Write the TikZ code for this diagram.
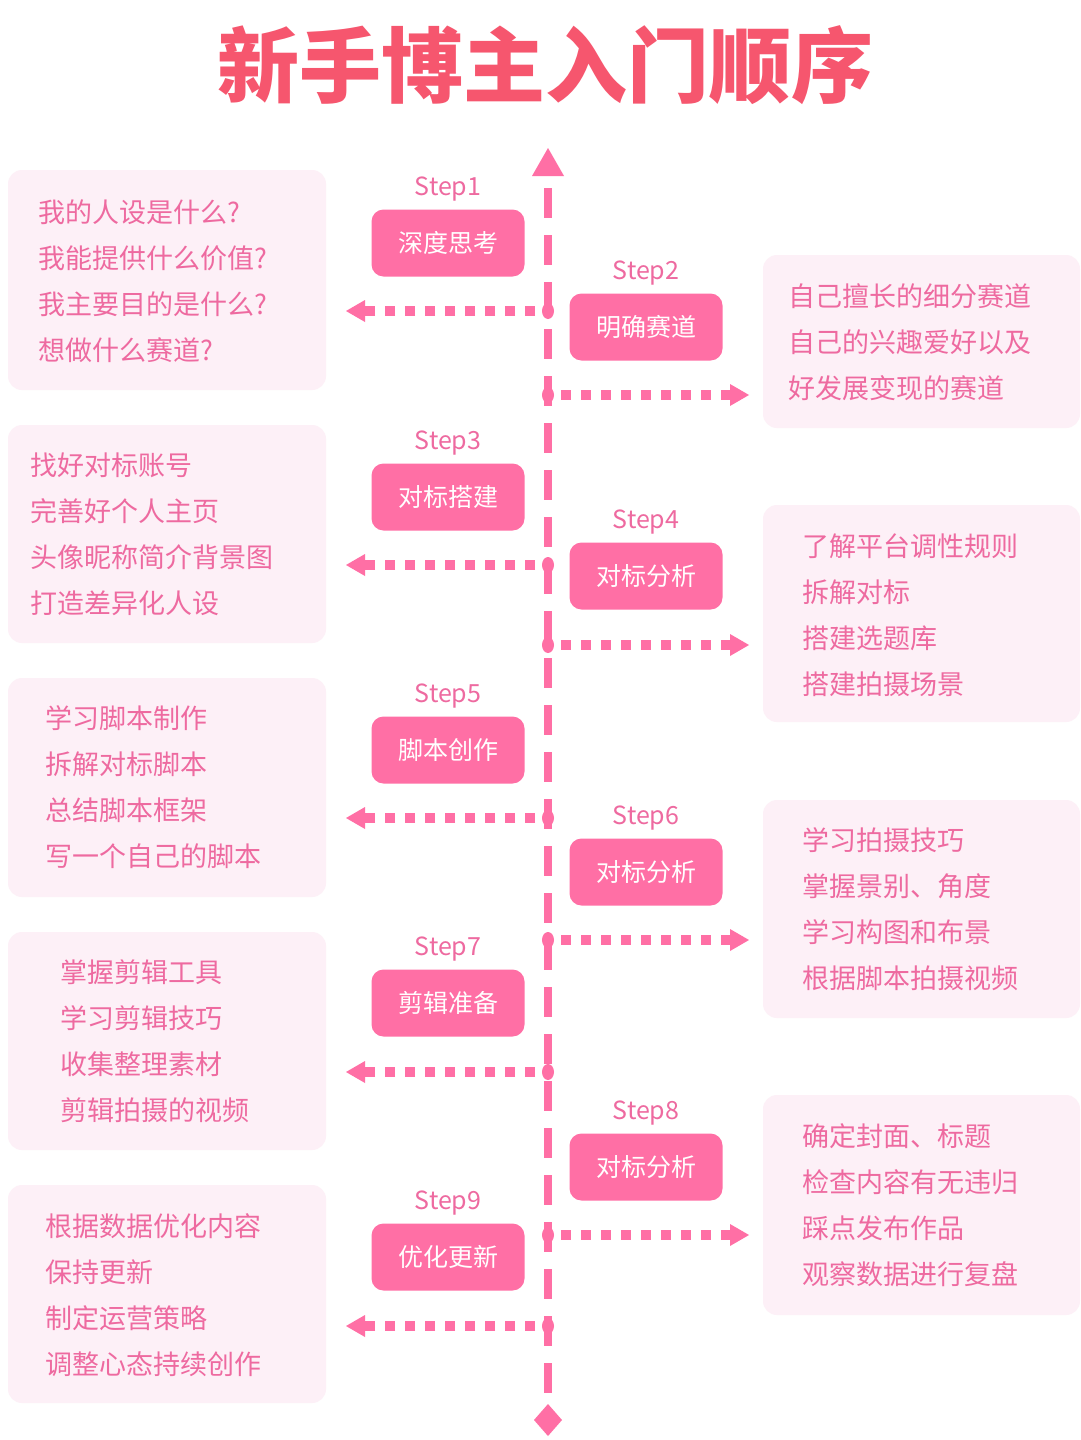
\documentclass[tikz,border=0pt]{standalone}
\usepackage{fontspec}
\setmainfont{Noto Sans CJK SC}
\newfontfamily\cjkb{Noto Sans CJK SC}[BoldFont=* Bold]
\usetikzlibrary{arrows.meta}
\definecolor{pk}{HTML}{FF6FA5}
\definecolor{pkt}{HTML}{EE6AA0}
\definecolor{bg}{HTML}{FDF0F7}
\definecolor{ttl}{HTML}{F6566E}
\tikzset{
 x=1pt,y=-1pt,
 infobox/.style={fill=bg,rounded corners=14pt,draw=none},
 pill/.style={fill=pk,rounded corners=12pt,text=white,font=\fontsize{25}{30}\selectfont,minimum width=153pt,minimum height=67pt,inner sep=0pt},
 steplab/.style={text=pkt,font=\fontsize{25}{30}\selectfont},
 txt/.style={text=pkt,font=\fontsize{27}{30}\selectfont,anchor=west,inner sep=0pt},
 dots/.style={pk,line width=10pt,dash pattern=on 10pt off 10pt},
 arrl/.style={pk,line width=9pt},
}
\begin{document}
\begin{tikzpicture}
\fill[white] (0,0) rectangle (1080,1440);
\useasboundingbox (0,0) rectangle (1080,1440);
\node[text=ttl,font=\fontsize{82}{90}\selectfont\bfseries] (title) at (545,65) {新手博主入门顺序};
% axis
\coordinate (top) at (548,172);
\coordinate (bot) at (548,1412);
\draw[pk,line width=8pt,dash pattern=on 30pt off 17pt] (548,188) -- (bot);
\fill[pk] (548,148) -- (564,176) -- (532,176) -- cycle;
\fill[pk] (548,1404) -- (562,1420) -- (548,1436) -- (534,1420) -- cycle;
% boxes
\foreach \a/\b in {170/390,425/643,678/897,932/1150,1185/1403}
  \fill[bg,rounded corners=14pt] (8,\a) rectangle (326,\b);
\foreach \a/\b in {255/428,505/722,800/1018,1095/1315}
  \fill[bg,rounded corners=14pt] (763,\a) rectangle (1080,\b);
% pills
\foreach \y/\s/\t [count=\i] in {243/1/深度思考,497/3/对标搭建,750/5/脚本创作,1003/7/剪辑准备,1257/9/优化更新}{
  \node[pill] (p\s) at (448,\y) {\t};
  \node[steplab] (s\s) at (448,\y-54) {Step\s};
}
\foreach \y/\s/\t in {327/2/明确赛道,576/4/对标分析,872/6/对标分析,1167/8/对标分析}{
  \node[pill] (p\s) at (646,\y) {\t};
  \node[steplab] (s\s) at (646,\y-54) {Step\s};
}
% arrows
\foreach \y in {311,565,818,1072,1326}{
  \coordinate (la\y) at (548,\y);
  \coordinate (lb\y) at (362,\y);
  \draw[dots] (535,\y) -- (lb\y);
  \fill[pk] (lb\y) ++(3,-11) -- ++(-19,11) -- ++(19,11) -- cycle;
  \fill[pk] (la\y) ellipse (6pt and 8pt);
}
\foreach \y in {395,645,940,1235}{
  \coordinate (ra\y) at (548,\y);
  \coordinate (rb\y) at (733,\y);
  \draw[dots] (561,\y) -- (rb\y);
  \fill[pk] (rb\y) ++(-3,-11) -- ++(19,11) -- ++(-19,11) -- cycle;
  \fill[pk] (ra\y) ellipse (6pt and 8pt);
}
% texts
\foreach \x/\y/\t in {
 38/212/我的人设是什么?, 38/258/我能提供什么价值?, 38/304/我主要目的是什么?, 38/350/想做什么赛道?,
 30/465/找好对标账号, 30/511/完善好个人主页, 30/557/头像昵称简介背景图, 30/603/打造差异化人设,
 45/718/学习脚本制作, 45/764/拆解对标脚本, 45/810/总结脚本框架, 45/856/写一个自己的脚本,
 60/972/掌握剪辑工具, 60/1018/学习剪辑技巧, 60/1064/收集整理素材, 60/1110/剪辑拍摄的视频,
 45/1226/根据数据优化内容, 45/1272/保持更新, 45/1318/制定运营策略, 45/1364/调整心态持续创作,
 788/296/自己擅长的细分赛道, 788/342/自己的兴趣爱好以及, 788/388/好发展变现的赛道,
 802/546/了解平台调性规则, 802/592/拆解对标, 802/638/搭建选题库, 802/684/搭建拍摄场景,
 802/840/学习拍摄技巧, 802/886/掌握景别、角度, 802/932/学习构图和布景, 802/978/根据脚本拍摄视频,
 802/1136/确定封面、标题, 802/1182/检查内容有无违归, 802/1228/踩点发布作品, 802/1274/观察数据进行复盘}
  \node[txt] at (\x,\y) {\t};
\end{tikzpicture}
\end{document}
